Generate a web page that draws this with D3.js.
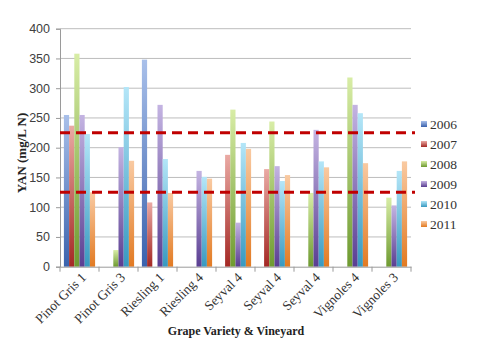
<!DOCTYPE html>
<html>
<head>
<meta charset="utf-8">
<script src="https://cdn.jsdelivr.net/npm/d3@7"></script>
<style>
  html, body { margin: 0; padding: 0; background: #fff; }
  svg { display: block; }
</style>
</head>
<body>
<svg id="chart" width="482" height="350"></svg>
<script>
// Yeast assimilable nitrogen by vineyard block and vintage
const categories = ["Pinot Gris 1", "Pinot Gris 3", "Riesling 1", "Riesling 4", "Seyval 4", "Seyval 4", "Seyval 4", "Vignoles 4", "Vignoles 3"];
const years = ["2006", "2007", "2008", "2009", "2010", "2011"];
const yan2006 = [255, null, 348, null, null, null, null, null, null];
const yan2007 = [237, null, 108, null, 188, 164, null, null, null];
const yan2008 = [358, 28, null, null, 264, 244, 124, 318, 116];
const yan2009 = [255, 201, 272, 161, 74, 169, 230, 272, 103];
const yan2010 = [223, 302, 181, 151, 208, 144, 177, 258, 161];
const yan2011 = [125, 178, 124, 148, 198, 154, 167, 174, 177];
const thresholds = [225, 125];
const yTicks = [0, 50, 100, 150, 200, 250, 300, 350, 400];

const seriesValues = [yan2006, yan2007, yan2008, yan2009, yan2010, yan2011];
// top tint, bottom shade for each vintage
const topColors = ["#a9c0ea", "#eaaaa4", "#d8eda6", "#c4b4e2", "#b4e6f8", "#f9caa2"];
const botColors = ["#3a62ad", "#a42824", "#6e9a30", "#5a3e92", "#3899c0", "#e27a22"];

const svg = d3.select("#chart");
const margin = { left: 60, right: 71, top: 28.7, bottom: 83.3 };
const W = 482, H = 350;
const plotW = W - margin.left - margin.right;
const plotH = H - margin.top - margin.bottom;

const x0 = d3.scaleBand().domain(d3.range(categories.length)).range([margin.left, margin.left + plotW]).paddingInner(0).paddingOuter(0);
const x1 = d3.scaleBand().domain(years).range([0, x0.bandwidth()]).paddingInner(0).paddingOuter(0.75);
const y = d3.scaleLinear().domain([0, 400]).range([margin.top + plotH, margin.top]);

// gradients
const defs = svg.append("defs");
years.forEach((yr, i) => {
  const g = defs.append("linearGradient").attr("id", "grad" + yr)
    .attr("x1", 0).attr("y1", 0).attr("x2", 0).attr("y2", 1);
  g.append("stop").attr("offset", "0%").attr("stop-color", topColors[i]);
  g.append("stop").attr("offset", "100%").attr("stop-color", botColors[i]);
});

// gridlines
svg.append("g").selectAll("line").data(yTicks.filter(t => t > 0)).join("line")
  .attr("x1", margin.left).attr("x2", margin.left + plotW)
  .attr("y1", d => y(d)).attr("y2", d => y(d))
  .attr("stroke", "#bdbdbd").attr("stroke-width", 1);

// y axis
const yAxis = svg.append("g").attr("transform", `translate(${margin.left},0)`)
  .call(d3.axisLeft(y).tickValues(yTicks).tickSize(4).tickPadding(6));
yAxis.select(".domain").attr("stroke", "#9a9a9a");
yAxis.selectAll(".tick line").attr("stroke", "#9a9a9a");
yAxis.selectAll("text").attr("font-family", "Liberation Sans, Arial, sans-serif").attr("font-size", 12.5).attr("fill", "#404040");

// bars
const groups = svg.append("g").selectAll("g").data(categories).join("g")
  .attr("transform", (d, i) => `translate(${x0(i)},0)`);
groups.selectAll("rect")
  .data((d, i) => years.map((yr, s) => ({ yr, v: seriesValues[s][i] })).filter(e => e.v != null))
  .join("rect")
  .attr("x", d => x1(d.yr))
  .attr("width", x1.bandwidth())
  .attr("y", d => y(d.v))
  .attr("height", d => y(0) - y(d.v))
  .attr("fill", d => `url(#grad${d.yr})`);

// x axis
const xAxis = svg.append("g").attr("transform", `translate(0,${margin.top + plotH})`)
  .call(d3.axisBottom(x0).tickSize(0).tickFormat(i => categories[i]));
xAxis.select(".domain").attr("stroke", "#9a9a9a");
xAxis.selectAll("text")
  .attr("font-family", "Liberation Serif, Times New Roman, serif")
  .attr("font-size", 13.5).attr("fill", "#333")
  .attr("text-anchor", "end")
  .attr("transform", "translate(2,6) rotate(-45)")
  .attr("dy", "0.35em");
// category boundary ticks
svg.append("g").selectAll("line").data(d3.range(categories.length + 1)).join("line")
  .attr("x1", i => margin.left + i * x0.step()).attr("x2", i => margin.left + i * x0.step())
  .attr("y1", margin.top + plotH).attr("y2", margin.top + plotH + 5)
  .attr("stroke", "#9a9a9a");

// threshold lines
svg.append("g").selectAll("line").data(thresholds).join("line")
  .attr("x1", margin.left).attr("x2", margin.left + plotW + 4)
  .attr("y1", d => y(d)).attr("y2", d => y(d))
  .attr("stroke", "#c00000").attr("stroke-width", 3)
  .attr("stroke-dasharray", "10,6");

// axis titles
svg.append("text").attr("x", 236).attr("y", 335).attr("text-anchor", "middle")
  .attr("font-family", "Liberation Serif, Times New Roman, serif").attr("font-weight", "bold")
  .attr("font-size", 12).attr("fill", "#222").text("Grape Variety & Vineyard");
svg.append("text").attr("transform", "translate(26,153) rotate(-90)").attr("text-anchor", "middle")
  .attr("font-family", "Liberation Serif, Times New Roman, serif").attr("font-weight", "bold")
  .attr("font-size", 13).attr("fill", "#222").text("YAN (mg/L N)");

// legend
const legend = svg.append("g").selectAll("g").data(years).join("g")
  .attr("transform", (d, i) => `translate(421,${124 + i * 20})`);
legend.append("rect").attr("x", 0).attr("y", -3).attr("width", 6).attr("height", 6)
  .attr("fill", d => `url(#grad${d})`);
legend.append("text").attr("x", 9).attr("y", 0).attr("dy", "0.35em")
  .attr("font-family", "Liberation Serif, Times New Roman, serif")
  .attr("font-size", 13.5).attr("fill", "#333").text(d => d);
</script>
</body>
</html>
